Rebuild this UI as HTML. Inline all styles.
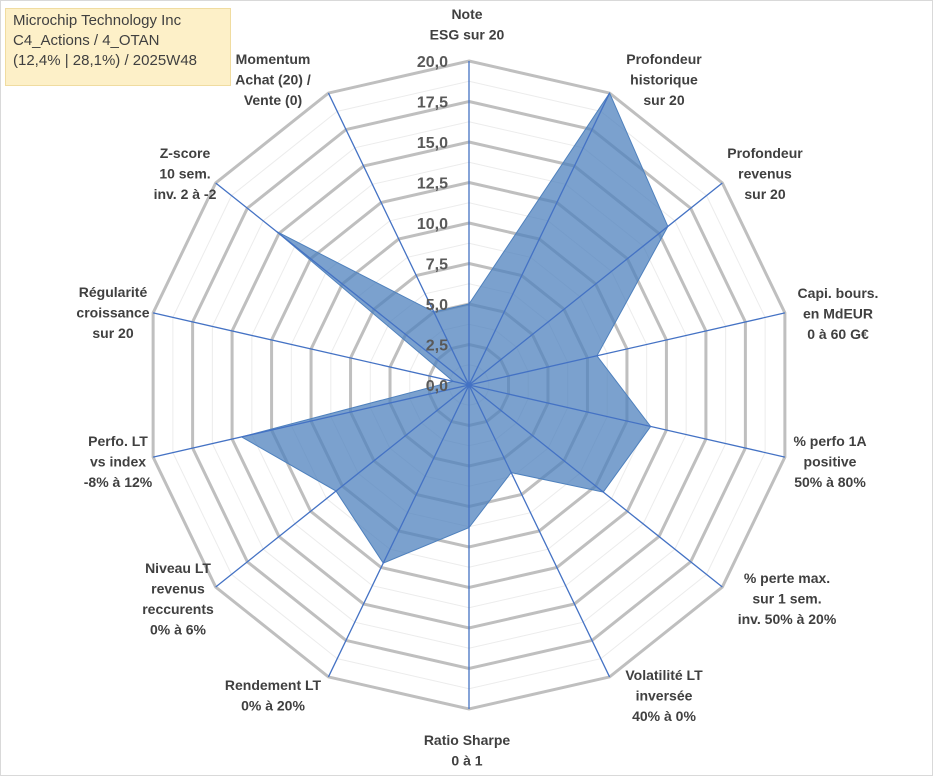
<!DOCTYPE html>
<html><head><meta charset="utf-8"><style>
html,body{margin:0;padding:0;background:#fff;}
body{width:933px;height:776px;overflow:hidden;position:relative;font-family:"Liberation Sans",sans-serif;}
#frame{position:absolute;left:0;top:0;width:931px;height:774px;border:1px solid #d9d9d9;}
#title{position:absolute;left:5px;top:8px;width:226px;height:78px;background:#fdf0c8;border:1px solid #f0dca0;color:#404040;font-size:15px;line-height:20px;padding:2px 0 0 7px;box-sizing:border-box;}
svg{position:absolute;left:0;top:0;}
.lbl{font-weight:bold;font-size:14px;fill:#404040;text-anchor:middle;}
.tick{font-weight:bold;font-size:16px;fill:#595959;text-anchor:end;}
</style></head><body>
<div id="frame"></div>
<svg id="chart" width="933" height="776"></svg>
<div id="title">Microchip Technology Inc<br>C4_Actions / 4_OTAN<br>(12,4% | 28,1%) / 2025W48</div>
<script>
const categories=[["Note","ESG sur 20"],["Profondeur","historique","sur 20"],["Profondeur","revenus","sur 20"],["Capi. bours.","en MdEUR","0 à 60 G€"],["% perfo 1A","positive","50% à 80%"],["% perte max.","sur 1 sem.","inv. 50% à 20%"],["Volatilité LT","inversée","40% à 0%"],["Ratio Sharpe","0 à 1"],["Rendement LT","0% à 20%"],["Niveau LT","revenus","reccurents","0% à 6%"],["Perfo. LT","vs index","-8% à 12%"],["Régularité","croissance","sur 20"],["Z-score","10 sem.","inv. 2 à -2"],["Momentum","Achat (20) /","Vente (0)"]];
const values=[5.0,20.0,15.7,8.1,11.5,10.6,6.0,8.8,12.2,10.5,14.4,1.0,15.2,5.0];
const tickLabels=["0,0","2,5","5,0","7,5","10,0","12,5","15,0","17,5","20,0"];
const maxVal=20;
const labelPos=[[467,19],[664,64],[765,158],[838,298],[830,446],[787,583],[664,680],[467,745],[273,690],[178,573],[118,446],[113,297],[185,158],[273,64]];
const cx=469,cy=385,R=324,N=categories.length;
const svg=document.getElementById('chart');
const NS='http://www.w3.org/2000/svg';
function ang(i){return i*2*Math.PI/N;}
function pt(i,v){const r=v/maxVal*R;return [cx+r*Math.sin(ang(i)),cy-r*Math.cos(ang(i))];}
function mk(t,a){const e=document.createElementNS(NS,t);for(const k in a)e.setAttribute(k,a[k]);svg.appendChild(e);return e;}
for(let k=1;k<=16;k++){const v=k*maxVal/16;const ps=[];for(let i=0;i<N;i++)ps.push(pt(i,v).join(','));
 const major=k%2===0;
 const g=mk('polygon',{points:ps.join(' '),fill:'none',stroke:major?'#bfbfbf':'#ececec','stroke-width':major?3:1});
 
 }
const sp=values.map((v,i)=>pt(i,v).join(',')).join(' ');
const area=mk('polygon',{points:sp,fill:'#4f81bd','fill-opacity':0.75,stroke:'#4f81bd','stroke-width':1});


for(let i=0;i<N;i++){const p=pt(i,maxVal);
 const l=mk('line',{x1:cx,y1:cy,x2:p[0],y2:p[1],stroke:'#4472c4','stroke-width':1.3});
 
 }
tickLabels.forEach((t,k)=>{const y=cy-k*R/(tickLabels.length-1)+6;
 const e=mk('text',{x:cx-21,y:y,class:'tick'});e.textContent=t;
 
 });
categories.forEach((lines,i)=>{const x=labelPos[i][0],y0=labelPos[i][1];
 const t=mk('text',{class:'lbl',x:x,y:y0});
 
 
 lines.forEach((ln,j)=>{const ts=document.createElementNS(NS,'tspan');ts.setAttribute('x',x);ts.setAttribute('y',y0+j*20.5);ts.textContent=ln;t.appendChild(ts);});});
</script>
</body></html>
